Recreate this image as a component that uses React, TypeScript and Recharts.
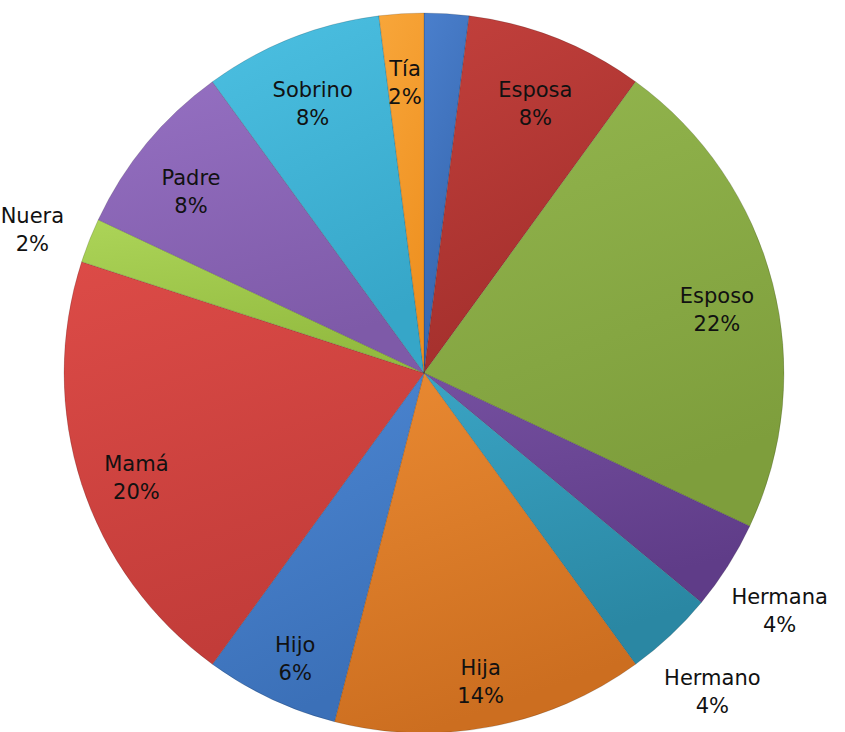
import { PieChart, Pie, Cell } from "recharts";

// respuestas por parentesco (n = 50), en orden horario desde las 12
const names = [
  "",
  "Esposa",
  "Esposo",
  "Hermana",
  "Hermano",
  "Hija",
  "Hijo",
  "Mamá",
  "Nuera",
  "Padre",
  "Sobrino",
  "Tía",
];
const counts = [1, 4, 11, 2, 2, 7, 3, 10, 1, 4, 4, 1];

const topColors = [
  "#4a7fcc", "#c2403c", "#93b64e", "#7550a0", "#3aa4c4", "#ea8a32",
  "#4d88d4", "#dc4b47", "#acd458", "#9570c2", "#4cc0e2", "#f8a63a",
];
const bottomColors = [
  "#3565ad", "#a32f2c", "#7e9e3c", "#5f3c88", "#2a87a3", "#cc6e20",
  "#3b70b8", "#c23c39", "#93bb40", "#7e5aa8", "#36a6c8", "#ee9020",
];

const outsideLabels = ["Nuera", "Hermana", "Hermano"];

const data = names.map((name, i) => ({ name, value: counts[i] }));

const RADIAN = Math.PI / 180;

const renderLabel = (props: any) => {
  const { cx, cy, midAngle, outerRadius, name, percent } = props;
  if (!name) return null;
  const factor = outsideLabels.includes(name) ? 1.17 : 0.84;
  const r = outerRadius * factor;
  const x = cx + r * Math.cos(-midAngle * RADIAN);
  const y = cy + r * Math.sin(-midAngle * RADIAN);
  return (
    <text
      x={x}
      y={y}
      textAnchor="middle"
      fill="#111"
      fontSize={21}
      fontFamily="'DejaVu Sans', sans-serif"
    >
      <tspan x={x} dy={5}>
        {name}
      </tspan>
      <tspan x={x} dy={28}>
        {`${Math.round(percent * 100)}%`}
      </tspan>
    </text>
  );
};

export default function App() {
  return (
    <div style={{ position: "absolute", left: 0, top: 0, background: "#fff" }}>
      <PieChart
        width={845}
        height={732}
        margin={{ top: 0, right: 0, bottom: 0, left: 0 }}
      >
        <defs>
          {topColors.map((c, i) => (
            <linearGradient key={i} id={`g${i}`} x1="0" y1="0" x2="0.3" y2="1">
              <stop offset="0%" stopColor={c} />
              <stop offset="100%" stopColor={bottomColors[i]} />
            </linearGradient>
          ))}
        </defs>
        <Pie
          data={data}
          dataKey="value"
          nameKey="name"
          cx={424}
          cy={373}
          outerRadius={360}
          startAngle={90}
          endAngle={-270}
          label={renderLabel}
          labelLine={false}
          isAnimationActive={false}
          stroke="rgba(0,0,0,0.15)"
          strokeWidth={1}
        >
          {data.map((_, i) => (
            <Cell key={i} fill={`url(#g${i})`} />
          ))}
        </Pie>
      </PieChart>
    </div>
  );
}
